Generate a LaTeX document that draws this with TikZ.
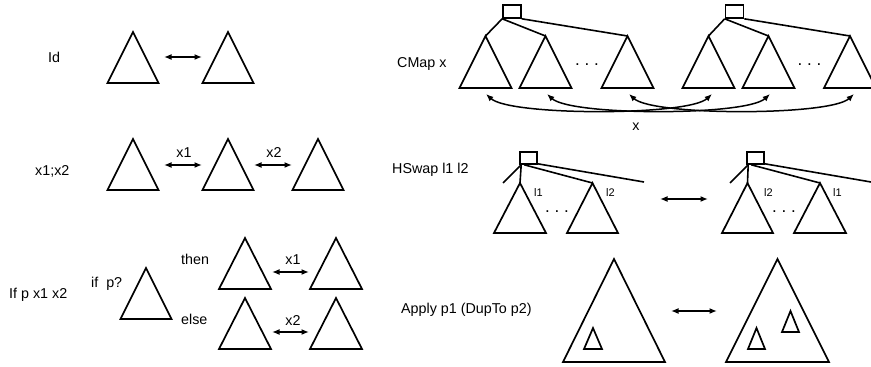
\documentclass[tikz,border=0pt]{standalone}
\usepackage{fontspec}
\setmainfont{Liberation Sans}
\usetikzlibrary{arrows.meta}

% isosceles triangle: name, apex x, apex y, half base, height
\newcommand\tri[5]{%
  \draw[treeline] (#2,#3) coordinate (#1-top) -- (#2-#4,#3+#5) coordinate (#1-bl)
    -- (#2+#4,#3+#5) coordinate (#1-br) -- cycle;}

\begin{document}
\begin{tikzpicture}[x=1pt,y=-1pt,
  treeline/.style={line width=1.7pt, line join=miter},
  edge/.style={line width=1.6pt},
  dbl/.style={line width=1.5pt, {Latex[length=7.5pt,width=6pt]}-{Latex[length=7.5pt,width=6pt]}},
  lbl/.style={inner sep=0pt, anchor=base west, font=\fontsize{14.3}{16}\selectfont},
  clbl/.style={inner sep=0pt, anchor=base, font=\fontsize{14.3}{16}\selectfont},
  sub/.style={inner sep=0pt, anchor=base west, font=\fontsize{11}{13}\selectfont},
  dots/.style={inner sep=0pt, anchor=base, font=\fontsize{17}{18}\selectfont},
  rootbox/.style={draw, line width=1.6pt, minimum width=18pt, minimum height=13pt, inner sep=0pt}]
\useasboundingbox (0,0) rectangle (871,367);

% ---------- Id ----------
\node[lbl] (idl) at (48,62) {Id};
\tri{a1}{133}{32}{25.5}{51}
\tri{a2}{228}{32}{25.5}{51}
\coordinate (ida) at (164,57); \coordinate (idb) at (202,57);
\draw[dbl] (ida) -- (idb);

% ---------- x1;x2 ----------
\node[lbl] (seql) at (35,175) {x1;x2};
\tri{b1}{133}{139}{25.5}{51}
\tri{b2}{228}{139}{25.5}{51}
\tri{b3}{318}{139}{25.5}{51}
\coordinate (sa) at (164,165); \coordinate (sb) at (202,165);
\coordinate (sc) at (254,165); \coordinate (sd) at (292,165);
\draw[dbl] (sa) -- (sb);
\draw[dbl] (sc) -- (sd);
\node[clbl] (sx1) at (184,157) {x1};
\node[clbl] (sx2) at (274,157) {x2};

% ---------- If p x1 x2 ----------
\node[lbl] (ifl) at (9,298) {If p x1 x2};
\node[lbl] (ifp) at (91,287) {if\ \ p?};
\tri{c0}{146}{268}{25.5}{51}
\node[lbl] (thenl) at (181,264) {then};
\node[lbl] (elsel) at (181,324) {else};
\tri{c1}{245}{238}{26}{51}
\tri{c2}{336}{238}{26}{51}
\tri{c3}{245}{298}{26}{51}
\tri{c4}{336}{298}{26}{51}
\coordinate (ta) at (272,272); \coordinate (tb) at (309,272);
\coordinate (ea) at (272,332); \coordinate (eb) at (309,332);
\draw[dbl] (ta) -- (tb);
\draw[dbl] (ea) -- (eb);
\node[clbl] (tx1) at (293,264) {x1};
\node[clbl] (ex2) at (293,325) {x2};

% ---------- CMap x ----------
\node[lbl] (cmapl) at (397,67) {CMap x};
\node[rootbox] (r1) at (512,11.5) {};
\tri{d1}{485.5}{36}{26}{52}
\tri{d2}{545.5}{36}{26}{52}
\tri{d3}{627.5}{36}{26}{52}
\draw[edge] (r1.south west) -- (d1-top);
\draw[edge] (r1.south west) -- (d2-top);
\draw[edge] (r1.south east) -- (d3-top);
\node[dots] (dd1) at (587,65) {.\ .\ .};

\node[rootbox] (r2) at (734.5,11.5) {};
\tri{e1}{708.5}{36}{26}{52}
\tri{e2}{768.5}{36}{26}{52}
\tri{e3}{850}{36}{26}{52}
\draw[edge] (r2.south west) -- (e1-top);
\draw[edge] (r2.south west) -- (e2-top);
\draw[edge] (r2.south east) -- (e3-top);
\node[dots] (dd2) at (809.5,65) {.\ .\ .};

\coordinate (m1) at (486,94); \coordinate (n1) at (712,94);
\coordinate (m2) at (547,94); \coordinate (n2) at (770,94);
\coordinate (m3) at (629,94); \coordinate (n3) at (854,94);
\draw[dbl] (m1) .. controls +(24,22) and +(-24,22) .. (n1);
\draw[dbl] (m2) .. controls +(24,22) and +(-24,22) .. (n2);
\draw[dbl] (m3) .. controls +(24,22) and +(-24,22) .. (n3);
\node[clbl] (xl) at (636,130) {x};

% ---------- HSwap l1 l2 ----------
\node[lbl] (hswl) at (392,173) {HSwap l1 l2};
\node[rootbox, minimum width=17pt, minimum height=12pt] (r3) at (528.5,158) {};
\coordinate (s3) at (503,183);
\coordinate (z3) at (644,182);
\tri{f1}{520}{183}{26}{50}
\tri{f2}{592.5}{183}{25.5}{50}
\draw[edge] ([xshift=2pt]r3.south west) -- (s3);
\draw[edge] ([xshift=2pt]r3.south west) -- (f1-top);
\draw[edge] ([xshift=5pt]r3.south west) -- (f2-top);
\draw[edge] ([yshift=1pt]r3.south east) -- (z3);
\node[sub] (f1l) at (534,196) {l1};
\node[sub] (f2l) at (606,196) {l2};
\node[dots] (dd3) at (557,212) {.\ .\ .};

\coordinate (ha) at (660,199); \coordinate (hb) at (708,199);
\draw[dbl] (ha) -- (hb);

\node[rootbox, minimum width=17pt, minimum height=12pt] (r4) at (755.5,158) {};
\coordinate (s4) at (730,183);
\coordinate (z4) at (871,182);
\tri{g1}{747.5}{183}{25.5}{50}
\tri{g2}{820}{183}{26}{50}
\draw[edge] ([xshift=2pt]r4.south west) -- (s4);
\draw[edge] ([xshift=2pt]r4.south west) -- (g1-top);
\draw[edge] ([xshift=5pt]r4.south west) -- (g2-top);
\draw[edge] ([yshift=1pt]r4.south east) -- (z4);
\node[sub] (g1l) at (764,196) {l2};
\node[sub] (g2l) at (833,196) {l1};
\node[dots] (dd4) at (784,212) {.\ .\ .};

% ---------- Apply p1 (DupTo p2) ----------
\node[lbl] (appl) at (401,313) {Apply p1 (DupTo p2)};
\tri{h1}{614}{259}{51}{103}
\tri{h1s}{593}{328}{9}{21}
\coordinate (pa) at (671,311); \coordinate (pb) at (717,311);
\draw[dbl] (pa) -- (pb);
\tri{h2}{777.5}{259}{51.5}{103}
\tri{h2s}{756.5}{328}{8.5}{21}
\tri{h2t}{790.5}{311}{8.5}{21}
\end{tikzpicture}
\end{document}
